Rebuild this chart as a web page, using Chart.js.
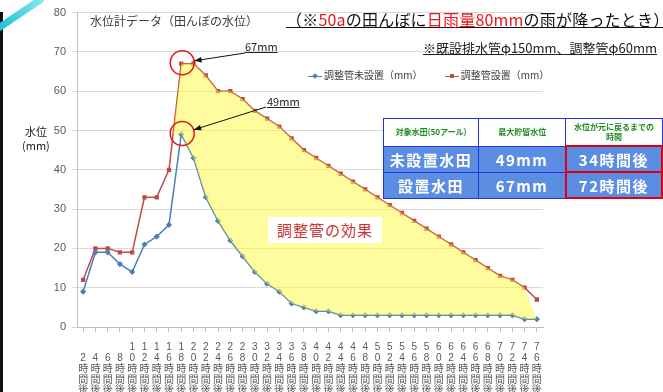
<!DOCTYPE html>
<html>
<head>
<meta charset="utf-8">
<script src="https://cdn.jsdelivr.net/npm/chart.js@4.4.0/dist/chart.umd.min.js"></script>
<style>
  html, body { margin: 0; padding: 0; background: #fff; }
  #wrap { position: relative; width: 663px; height: 392px; overflow: hidden;
          font-family: "Noto Sans CJK JP", "Noto Sans", sans-serif; }
  #c { position: absolute; left: 0; top: 0; }
  .abs { position: absolute; white-space: nowrap; line-height: 1; }
  #leftbar { left: 0; top: 12px; width: 3px; height: 380px; background: #111; }
  #swoosh { left: -8px; top: 10px; width: 56px; height: 7px; border-radius: 0 6px 6px 0;
            background: linear-gradient(90deg, #16c0d2, #8ce8f0); transform: rotate(-34deg); }
  #ytitle { left: 22px; top: 124px; font-size: 11px; color: #222; text-align: center; line-height: 1.3; }
  #ctitle { left: 90px; top: 15px; font-size: 12px; color: #404040; }
  #main { left: 286px; top: 11px; font-size: 16px; color: #111; text-decoration: underline; letter-spacing: 0.2px; }
  #main .r { color: #e8141c; }
  #sub { left: 423px; top: 41px; font-size: 13px; color: #222; text-decoration: underline; }
  .ann { font-size: 11px; color: #222; text-decoration: underline; }
  #legend { left: 308px; top: 70px; font-size: 10px; color: #404040; }
  #legend span.item { margin-right: 20px; }
  .mk { display: inline-block; width: 14px; height: 1.5px; vertical-align: middle; position: relative; margin-right: 2px; }
  .mk i { position: absolute; left: 5px; top: -1.5px; width: 4px; height: 4px; }
  #effect { left: 268px; top: 217px; width: 114px; height: 26px; background: #fff;
            color: #cc3333; font-size: 15px; letter-spacing: 1px; text-align: center; line-height: 26px; }
  table { position: absolute; left: 383px; top: 118px; border-collapse: collapse; table-layout: fixed; }
  td { border: 1px solid #2233dd; text-align: center; padding: 0; overflow: hidden; white-space: nowrap; }
  td.h { background: #fff; color: #1f8a1f; font-weight: bold; font-size: 8px; height: 26px; line-height: 1.25; }
  td.v { background: #5b8de2; color: #fff; font-weight: bold; font-size: 15px; height: 24px; letter-spacing: 1.5px; }
  td.red { border: 2px solid #e00010; }
</style>
</head>
<body>
<div id="wrap">
  <canvas id="c" width="663" height="392"></canvas>
  <div class="abs" id="leftbar"></div>
  <div class="abs" id="swoosh"></div>
  <div class="abs" id="ytitle">水位<br>(mm)</div>
  <div class="abs" id="ctitle">水位計データ（田んぼの水位）</div>
  <div class="abs" id="main">（※<span class="r">50a</span>の田んぼに<span class="r">日雨量80mm</span>の雨が降ったとき）</div>
  <div class="abs" id="sub">※既設排水管φ150mm、調整管φ60mm</div>
  <div class="abs ann" id="a67" style="left:245px;top:41px;">67mm</div>
  <div class="abs ann" id="a49" style="left:267px;top:96px;">49mm</div>
  <div class="abs" id="legend">
    <span class="item"><span class="mk" style="background:#4a7ebb"><i style="background:#4a7ebb;transform:rotate(45deg)"></i></span>調整管未設置（mm）</span>
    <span class="item"><span class="mk" style="background:#be4b48"><i style="background:#be4b48"></i></span>調整管設置（mm）</span>
  </div>
  <div class="abs" id="effect">調整管の効果</div>
  <table>
    <colgroup><col style="width:98px"><col style="width:96px"><col style="width:100px"></colgroup>
    <tr><td class="h">対象水田(50アール)</td><td class="h">最大貯留水位</td><td class="h">水位が元に戻るまでの<br>時間</td></tr>
    <tr><td class="v">未設置水田</td><td class="v">49mm</td><td class="v red">34時間後</td></tr>
    <tr><td class="v">設置水田</td><td class="v">67mm</td><td class="v red">72時間後</td></tr>
  </table>
</div>
<script>
const hours = [2, 4, 6, 8, 10, 12, 14, 16, 18, 20, 22, 24, 26, 28, 30, 32, 34, 36, 38,
               40, 42, 44, 46, 48, 50, 52, 54, 56, 58, 60, 62, 64, 66, 68, 70, 72, 74, 76];
const unsetLevel = [9, 19, 19, 16, 14, 21, 23, 26, 49, 43, 33, 27, 22, 18, 14, 11, 9, 6, 5,
                    4, 4, 3, 3, 3, 3, 3, 3, 3, 3, 3, 3, 3, 3, 3, 3, 3, 2, 2];
const setLevel = [12, 20, 20, 19, 19, 33, 33, 40, 67, 67, 64, 60, 60, 58, 55, 53, 51, 48, 45,
                  43, 41, 39, 37, 35, 33, 31, 29, 27, 25, 23, 21, 19, 17, 15, 13, 12, 10, 7];
const yMax = 80;
const yStep = 10;

// vertical labels: digits on top, then 時/間/後
const xLabels = hours.map(h => {
  const s = String(h);
  const digits = s.length === 1 ? ["", s] : [s[0], s[1]];
  return [...digits, "時", "間", "後"];
});

const tickFont = '"Liberation Sans", "Noto Sans CJK JP", sans-serif';

const effectPlugin = {
  id: 'effect',
  afterDatasetsDraw(chart) {
    const ctx = chart.ctx;
    const blue = chart.getDatasetMeta(0).data;
    const red = chart.getDatasetMeta(1).data;
    const p = setLevel.indexOf(Math.max(...setLevel));
    const n = red.length;

    // yellow area between the two lines after the peak
    const yb = blue[p].y;
    const r1 = red[p - 1], r2 = red[p];
    const t = (yb - r1.y) / (r2.y - r1.y);
    const xi = r1.x + t * (r2.x - r1.x);
    ctx.save();
    ctx.beginPath();
    ctx.moveTo(xi, yb);
    for (let i = p; i < n - 1; i++) ctx.lineTo(red[i].x, red[i].y);
    for (let i = n - 1; i >= p; i--) ctx.lineTo(blue[i].x, blue[i].y);
    ctx.closePath();
    ctx.fillStyle = 'rgba(255,250,60,0.5)';
    ctx.fill();

    // red circles + arrows
    const rad = 12;
    const marks = [
      { pt: red[p], from: [245, 53] },
      { pt: blue[p], from: [266, 107] }
    ];
    marks.forEach(m => {
      const cx = m.pt.x + 1, cy = m.pt.y - 1;
      ctx.beginPath();
      ctx.arc(cx, cy, rad, 0, Math.PI * 2);
      ctx.strokeStyle = '#e8141c';
      ctx.lineWidth = 1.5;
      ctx.stroke();

      const dx = m.from[0] - cx, dy = m.from[1] - cy;
      const len = Math.hypot(dx, dy);
      const tx = cx + dx / len * rad, ty = cy + dy / len * rad;
      ctx.beginPath();
      ctx.moveTo(m.from[0], m.from[1]);
      ctx.lineTo(tx, ty);
      ctx.strokeStyle = '#111';
      ctx.lineWidth = 1;
      ctx.stroke();
      const ang = Math.atan2(ty - m.from[1], tx - m.from[0]);
      ctx.beginPath();
      ctx.moveTo(tx, ty);
      ctx.lineTo(tx - 8 * Math.cos(ang - 0.35), ty - 8 * Math.sin(ang - 0.35));
      ctx.lineTo(tx - 8 * Math.cos(ang + 0.35), ty - 8 * Math.sin(ang + 0.35));
      ctx.closePath();
      ctx.fillStyle = '#111';
      ctx.fill();
    });
    ctx.restore();
  }
};

new Chart(document.getElementById('c'), {
  type: 'line',
  data: {
    labels: xLabels,
    datasets: [
      {
        label: '調整管未設置（mm）',
        data: unsetLevel,
        borderColor: '#4a7ebb',
        backgroundColor: '#4a7ebb',
        borderWidth: 1.5,
        pointStyle: 'rectRot',
        pointRadius: 2,
        tension: 0
      },
      {
        label: '調整管設置（mm）',
        data: setLevel,
        borderColor: '#be4b48',
        backgroundColor: '#be4b48',
        borderWidth: 1.5,
        pointStyle: 'rect',
        pointRadius: 2,
        tension: 0
      }
    ]
  },
  options: {
    responsive: false,
    animation: false,
    layout: { padding: { top: 10, right: 120, left: 0, bottom: 0 } },
    plugins: { legend: { display: false }, tooltip: { enabled: false } },
    scales: {
      x: {
        offset: true,
        grid: { drawOnChartArea: false, tickLength: 5, color: '#bfbfbf' },
        border: { color: '#bfbfbf' },
        ticks: {
          autoSkip: false, maxRotation: 0, minRotation: 0, padding: 10,
          color: '#595959', font: { size: 10, family: tickFont, lineHeight: 1.08 }
        },
        afterFit(s) { s.height = 65; }
      },
      y: {
        min: 0,
        max: yMax,
        ticks: { stepSize: yStep, padding: 6, color: '#595959', font: { size: 11, family: tickFont } },
        grid: { color: '#d9d9d9', tickLength: 5 },
        border: { color: '#bfbfbf' },
        afterFit(s) { s.width = 77; }
      }
    }
  },
  plugins: [effectPlugin]
});
</script>
</body>
</html>
